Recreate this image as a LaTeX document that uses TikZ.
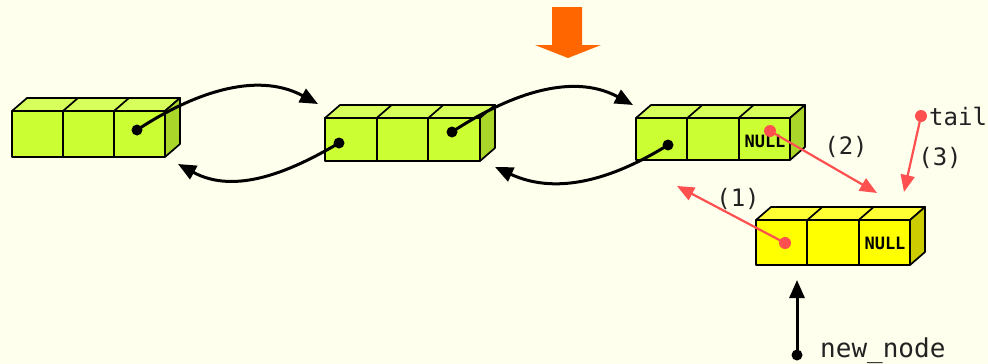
\documentclass[tikz,border=0pt]{standalone}
\usepackage{fontspec}
\newfontfamily\monof{DejaVu Sans Mono}
\usetikzlibrary{arrows.meta}
\definecolor{bg}{HTML}{FFFFEE}
\definecolor{gfront}{HTML}{CCFF33}
\definecolor{gtop}{HTML}{D6FF5C}
\definecolor{gside}{HTML}{AAD62A}
\definecolor{yfront}{HTML}{FFFF00}
\definecolor{ytop}{HTML}{FFFF33}
\definecolor{yside}{HTML}{CCCC00}
\definecolor{redc}{HTML}{FF5050}
\definecolor{orangec}{HTML}{FF6600}
\definecolor{txt}{HTML}{222222}
\newcommand\lbox[8]{%
  \pgfmathsetmacro\bxa{#2+#4/3}%
  \pgfmathsetmacro\bxb{#2+2*#4/3}%
  \pgfmathsetmacro\bxr{#2+#4}%
  \pgfmathsetmacro\byb{#3+#5}%
  \draw[boxline,fill=#7] (#2,#3) -- ++(15,-13) -- (\bxr+15,#3-13) -- (\bxr,#3) -- cycle;
  \draw[boxline] (\bxa,#3) -- ++(15,-13) (\bxb,#3) -- ++(15,-13);
  \draw[boxline,fill=#8] (\bxr,#3) -- ++(15,-13) -- ++(0,#5) -- (\bxr,\byb) -- cycle;
  \draw[boxline,fill=#6] (#2,#3) rectangle (\bxr,\byb);
  \draw[boxline] (\bxa,#3) -- (\bxa,\byb) (\bxb,#3) -- (\bxb,\byb);
  \coordinate (#1-3) at ({#2+5*#4/6},{#3+#5/2});
}
\tikzset{
  boxline/.style={draw=black,line width=1.7pt,line join=round},
  blk/.style={draw=black,line width=3pt,-{Triangle[length=18pt,width=15pt]}},
  redarr/.style={draw=redc,line width=2.2pt,-{Triangle[length=17pt,width=14pt]}},
  dotb/.style={circle,fill=black,inner sep=0pt,minimum size=11pt},
  dotr/.style={circle,fill=redc,inner sep=0pt,minimum size=12pt},
  lbl/.style={font=\monof\fontsize{24}{24}\selectfont,text=txt,inner sep=0pt},
  nulltxt/.style={font=\monof\bfseries\fontsize{17}{17}\selectfont,text=black,inner sep=0pt},
}
\begin{document}
\begin{tikzpicture}[x=1pt,y=-1pt]
\useasboundingbox (0,0) rectangle (988,364);
\fill[bg] (0,0) rectangle (988,364);
% orange arrow
\fill[orangec] (552,7) -- (582,7) -- (582,45) -- (601,45) -- (568,58) -- (535,45) -- (552,45) -- cycle;
% boxes
\lbox{b1}{12}{111}{153}{46}{gfront}{gtop}{gside}
\lbox{b2}{325}{118}{155}{43}{gfront}{gtop}{gside}
\lbox{b3}{636}{118}{154}{42}{gfront}{gtop}{gside}
\lbox{b4}{756}{220}{154}{45}{yfront}{ytop}{yside}
\node[nulltxt] (null3) at (765,141) {NULL};
\node[nulltxt] (null4) at (885,243) {NULL};
% dots
\node[dotb] (d1) at (137,130) {};
\node[dotb] (d2l) at (339,143) {};
\node[dotb] (d2r) at (452,132) {};
\node[dotb] (d3l) at (668,145) {};
\node[dotr] (d3r) at (770,131) {};
\node[dotr] (d4) at (785,243) {};
\node[dotr] (dtail) at (921,116) {};
\node[dotb] (dnew) at (797,355) {};
% free ends
\coordinate (t12) at (318,104);
\coordinate (t21) at (178,164);
\coordinate (t23) at (633,105);
\coordinate (t32) at (495,167);
\coordinate (tr1) at (677,186);
\coordinate (tr2) at (877,193);
\coordinate (tr3) at (904,192);
\coordinate (tnew) at (797,280);
% black curves
\draw[blk] (d1.center) .. controls (190,95) and (255,70) .. (t12);
\draw[blk] (d2l.center) .. controls (290,172) and (235,195) .. (t21);
\draw[blk] (d2r.center) .. controls (505,97) and (570,71) .. (t23);
\draw[blk] (d3l.center) .. controls (618,176) and (560,197) .. (t32);
\draw[blk] (dnew.center) -- (tnew);
% red arrows
\draw[redarr] (d4.center) -- (tr1);
\draw[redarr] (d3r.center) -- (tr2);
\draw[redarr] (dtail.center) -- (tr3);
% labels
\node[lbl] (l1) at (738,199) {(1)};
\node[lbl] (l2) at (846,147) {(2)};
\node[lbl] (l3) at (940,158) {(3)};
\node[lbl,anchor=west] (tail) at (929,116) {tail};
\node[lbl,anchor=west,font=\monof\fontsize{26}{26}\selectfont] (newnode) at (820,351) {new\_node};
\end{tikzpicture}
\end{document}
